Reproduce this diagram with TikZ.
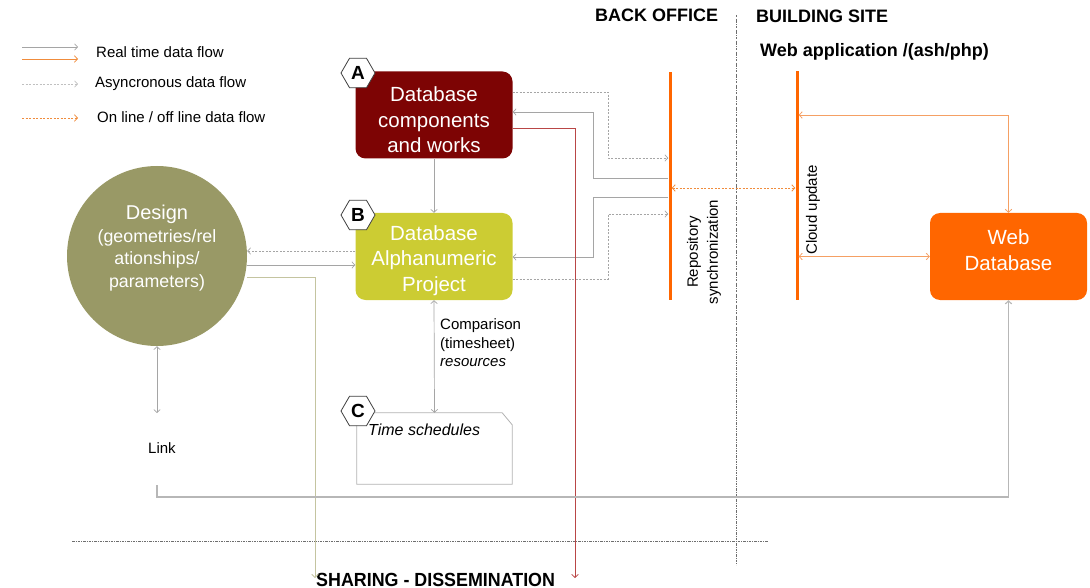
\documentclass[tikz,border=0pt]{standalone}
\usepackage{fontspec}
\setmainfont{Liberation Sans}
\usetikzlibrary{arrows.meta,shapes.geometric,calc}

\definecolor{dbred}{RGB}{125,4,4}
\definecolor{dbyellow}{RGB}{204,204,51}
\definecolor{designol}{RGB}{153,153,102}
\definecolor{webor}{RGB}{255,102,0}
\definecolor{flowgray}{RGB}{165,165,165}
\definecolor{orline}{RGB}{245,160,100}
\definecolor{orlegend}{RGB}{240,140,60}
\definecolor{redline}{RGB}{185,70,70}
\definecolor{oliveline}{RGB}{196,196,160}
\definecolor{sepgray}{RGB}{110,110,110}

\begin{document}
\begin{tikzpicture}[x=1pt,y=-1pt,
  >={Straight Barb[length=3pt,width=6.5pt]},
  box/.style={rounded corners=10pt, minimum width=157pt, minimum height=87pt,
    inner sep=0pt},
  boxtext/.style={align=center, text=white, inner sep=0pt,
    font=\fontsize{20.5}{25.5}\selectfont},
  hexlabel/.style={regular polygon, regular polygon sides=6, minimum size=34pt,
    inner sep=0pt, draw=black!75, line width=0.8pt, fill=white,
    font=\fontsize{19}{19}\selectfont\bfseries},
  bar/.style={fill=webor, draw=none, minimum width=3pt, inner sep=0pt},
  flow/.style={draw=flowgray, line width=0.7pt},
  async/.style={draw=flowgray, line width=0.7pt, dash pattern=on 2pt off 1.5pt},
  online/.style={draw=orlegend, line width=0.8pt, dash pattern=on 2pt off 1.5pt},
  orthin/.style={draw=orline, line width=0.8pt},
  redflow/.style={draw=redline, line width=0.8pt},
  oliveflow/.style={draw=oliveline, line width=0.9pt},
  linkflow/.style={draw=flowgray!80, line width=1.1pt},
  sep/.style={draw=sepgray, line width=0.6pt, dash pattern=on 2.5pt off 1.2pt on 0.6pt off 1.2pt},
  lbl/.style={inner sep=0pt, font=\fontsize{15}{18.5}\selectfont},
  head/.style={inner sep=0pt, font=\fontsize{18}{18}\selectfont\bfseries}
]
\useasboundingbox (0,0) rectangle (1090,588);

% ---- legend ----
\coordinate (l1a) at (22,47);  \coordinate (l1b) at (78,47);
\coordinate (l2a) at (22,59);  \coordinate (l2b) at (78,59);
\coordinate (l3a) at (22,84);  \coordinate (l3b) at (78,84);
\coordinate (l4a) at (22,118); \coordinate (l4b) at (78,118);
\draw[flow,->] (l1a) -- (l1b);
\draw[draw=orlegend, line width=0.8pt,->] (l2a) -- (l2b);
\draw[async,draw=flowgray!70,->] (l3a) -- (l3b);
\draw[online,->] (l4a) -- (l4b);
\node[lbl, anchor=west] (t1) at (96,52) {Real time data flow};
\node[lbl, anchor=west] (t2) at (95,84) {Asyncronous data flow};
\node[lbl, anchor=west] (t3) at (97,117) {On line / off line data flow};

% ---- headings and separators ----
\node[head, anchor=base west] (hbo) at (595,22) {BACK OFFICE};
\node[head, anchor=base west] (hbs) at (756,23) {BUILDING SITE};
\node[head, anchor=base west] (hwa) at (760,57) {Web application /(ash/php)};
\node[head, anchor=base west, font=\fontsize{19}{19}\selectfont\bfseries] (hsd) at (316,586)
  {\addfontfeatures{FakeStretch=0.94}SHARING - DISSEMINATION};
\draw[sep] (736,15) -- (736,565);
\draw[sep] (72,541) -- (768,541);

% ---- main blocks ----
\node[box, fill=dbred] (A) at (434,115) {};
\node[boxtext] (At) at (434,120) {Database\\components\\and works};
\node[box, fill=dbyellow] (B) at (434,256.5) {};
\node[boxtext] (Bt) at (434,260.5) {Database\\Alphanumeric\\Project};
\node[box, fill=webor] (W) at (1008.5,256.5) {};
\node[boxtext] (Wt) at (1008.5,250) {Web\\Database};
\node[circle, fill=designol, minimum size=180pt, inner sep=0pt] (D) at (157,256) {};
\node[text=white, align=center, inner sep=0pt, font=\fontsize{17.8}{22.5}\selectfont] (Dt) at (157,248)
  {{\fontsize{20}{24}\selectfont Design}\\(geometries/rel\\ationships/\\parameters)};

% time schedules block with a cut corner
\node[minimum width=155pt, minimum height=71pt, inner sep=0pt] (C) at (434.5,448.5) {};
\draw[draw=black!30, line width=0.8pt]
  (C.south west) -- (C.north west) -- ($(C.north east)+(-10,0)$)
  -- ($(C.north east)+(0,12)$) -- (C.south east) -- cycle;
\node[anchor=west, inner sep=0pt, font=\fontsize{16}{16}\selectfont\itshape] (Ct) at (368,430) {Time schedules};

% letter tags
\node[hexlabel] (hA) at (358,73) {A};
\node[hexlabel] (hB) at (358,215) {B};
\node[hexlabel] (hC) at (358,411) {C};

% synchronization bars
\node[bar, minimum height=228pt] (repo) at (670,186) {};
\node[bar, minimum height=229pt] (cloud) at (797,185.5) {};
\node[lbl, rotate=90, align=center, font=\fontsize{15}{20}\selectfont] (repolbl) at (704,252)
  {Repository\\synchronization};
\node[lbl, rotate=90] (cloudlbl) at (813,210) {Cloud update};

% other labels
\node[lbl, align=left, anchor=west] (cmp) at (440,343)
  {Comparison\\(timesheet)\\\textit{resources}};
\node[lbl, anchor=west] (lk) at (148,448) {Link};

% free ends
\coordinate (lk1) at (157,413);
\coordinate (lk2) at (157,485);
\coordinate (sh1) at (315,578);
\coordinate (sh2) at (575,578);

% ---- connectors ----
\draw[flow,->] (A.south) -- (B.north);
\draw[async,->] ($(A.east)+(0,-23)$) -| (608,158) -- (repo.west |- 0,158);
\draw[flow,->] (repo.west |- 0,178) -| (593,112) -- (A.east |- 0,112);
\draw[flow,->] (repo.west |- 0,197) -| (593,257) -- (B.east |- 0,257);
\draw[async,->] (B.east |- 0,279) -| (608,214) -- (repo.west |- 0,214);
\draw[redflow,->] (A.east |- 0,128) -| (sh2);

\draw[online,<->] (repo.east |- 0,188) -- (cloud.west |- 0,188);
\draw[orthin,<->] (W.north) |- (cloud.east |- 0,115);
\draw[orthin,<->] (cloud.east |- W.west) -- (W.west);

\draw[async,->] (B.west |- 0,251) -- (D.east |- 0,251);
\draw[flow,->] (D.east |- 0,265) -- (B.west |- 0,265);
\draw[oliveflow,->] (D.east |- 0,277) -| (sh1);
\draw[flow,<->] (D.south) -- (lk1);
\draw[linkflow,->] (lk2) |- (W.south |- 0,497) -- (W.south);
\draw[flow,<->] (B.south) -- (C.north);
\end{tikzpicture}
\end{document}
